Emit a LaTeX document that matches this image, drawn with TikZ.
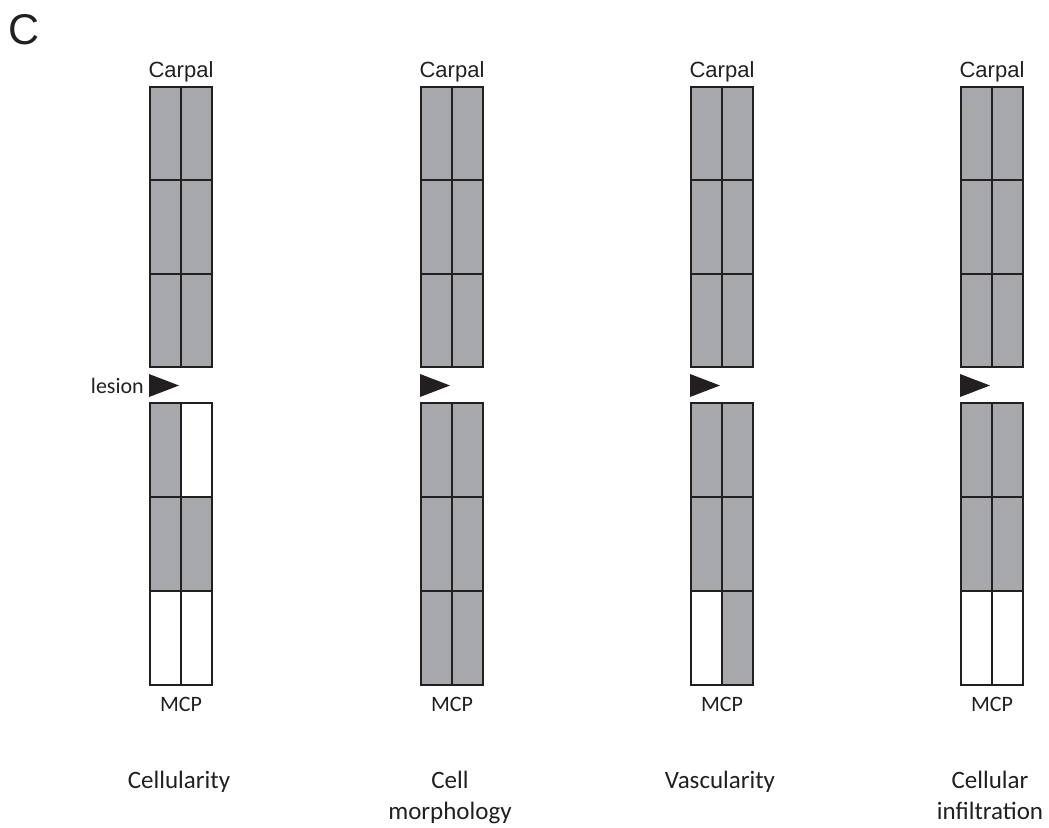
\documentclass[tikz,border=0pt]{standalone}
\usepackage{fontspec}
\setmainfont{Carlito}
\newfontfamily\helv{Liberation Sans}
\definecolor{tissue}{HTML}{A7A8AB}
\definecolor{ink}{HTML}{231F20}
\setlength{\tabcolsep}{0pt}
\tikzset{
  cellfill/.style={draw=none},
  gridline/.style={draw=ink, line width=1.9pt, line join=miter, line cap=rect},
  marker/.style={fill=ink, draw=none},
  toplabel/.style={font=\helv\fontsize{22}{26}\selectfont, text=ink, anchor=base, inner sep=0pt},
  endlabel/.style={font=\fontsize{22}{26}\selectfont, text=ink, anchor=base, inner sep=0pt},
  caption/.style={font=\fontsize{25}{31}\selectfont, text=ink, anchor=base, inner sep=0pt},
}
\begin{document}
\begin{tikzpicture}[x=1pt,y=-1pt]
\useasboundingbox (0,0) rectangle (1049,827);

% panel letter
\node[font=\helv\fontsize{43}{46}\selectfont, text=ink, anchor=base west, inner sep=0pt] (panel) at (8,44) {C};

% four limbs: left edge, name, fills of the six distal cells (row by row, left/right), caption
\foreach \L/\n/\fa/\fb/\fc/\fd/\fe/\ff/\cap in {
  150/a/tissue/white/tissue/tissue/white/white/{Cellularity},
  421/b/tissue/tissue/tissue/tissue/tissue/tissue/{Cell\\morphology},
  691/c/tissue/tissue/tissue/tissue/white/tissue/{Vascularity},
  961/d/tissue/tissue/tissue/tissue/white/white/{Cellular\\infiltration}}{
  % proximal block (all tissue)
  \fill[tissue] (\L,87) rectangle (\L+62,367);
  % distal block cells
  \fill[\fa] (\L, 403) rectangle ++(31,94);
  \fill[\fb] (\L+31, 403) rectangle ++(31,94);
  \fill[\fc] (\L, 497) rectangle ++(31,94);
  \fill[\fd] (\L+31, 497) rectangle ++(31,94);
  \fill[\fe] (\L, 591) rectangle ++(31,94);
  \fill[\ff] (\L+31, 591) rectangle ++(31,94);
  % outlines and dividers
  \draw[gridline] (\L,87) rectangle (\L+62,367);
  \draw[gridline] (\L+31,87) -- (\L+31,367)
                  (\L,180.33) -- (\L+62,180.33)
                  (\L,273.67) -- (\L+62,273.67);
  \draw[gridline] (\L,403) rectangle (\L+62,685);
  \draw[gridline] (\L+31,403) -- (\L+31,685)
                  (\L,497) -- (\L+62,497)
                  (\L,591) -- (\L+62,591);
  % lesion marker
  \fill[marker] (\L-1,374) -- (\L+29,385.5) -- (\L-1,397) -- cycle;
  \coordinate (lesion-\n) at (\L-1,385.5);
  % labels
  \node[toplabel] (carpal-\n) at (\L+31,77) {Carpal};
  \node[endlabel] (mcp-\n) at (\L+31,711) {MCP};
  \node[caption] (cap-\n) at (\L+29,788) {\begin{tabular}[t]{c}\cap\end{tabular}};
}

\node[endlabel, anchor=base east] (lesion) at (144,393) {lesion};
\end{tikzpicture}
\end{document}
